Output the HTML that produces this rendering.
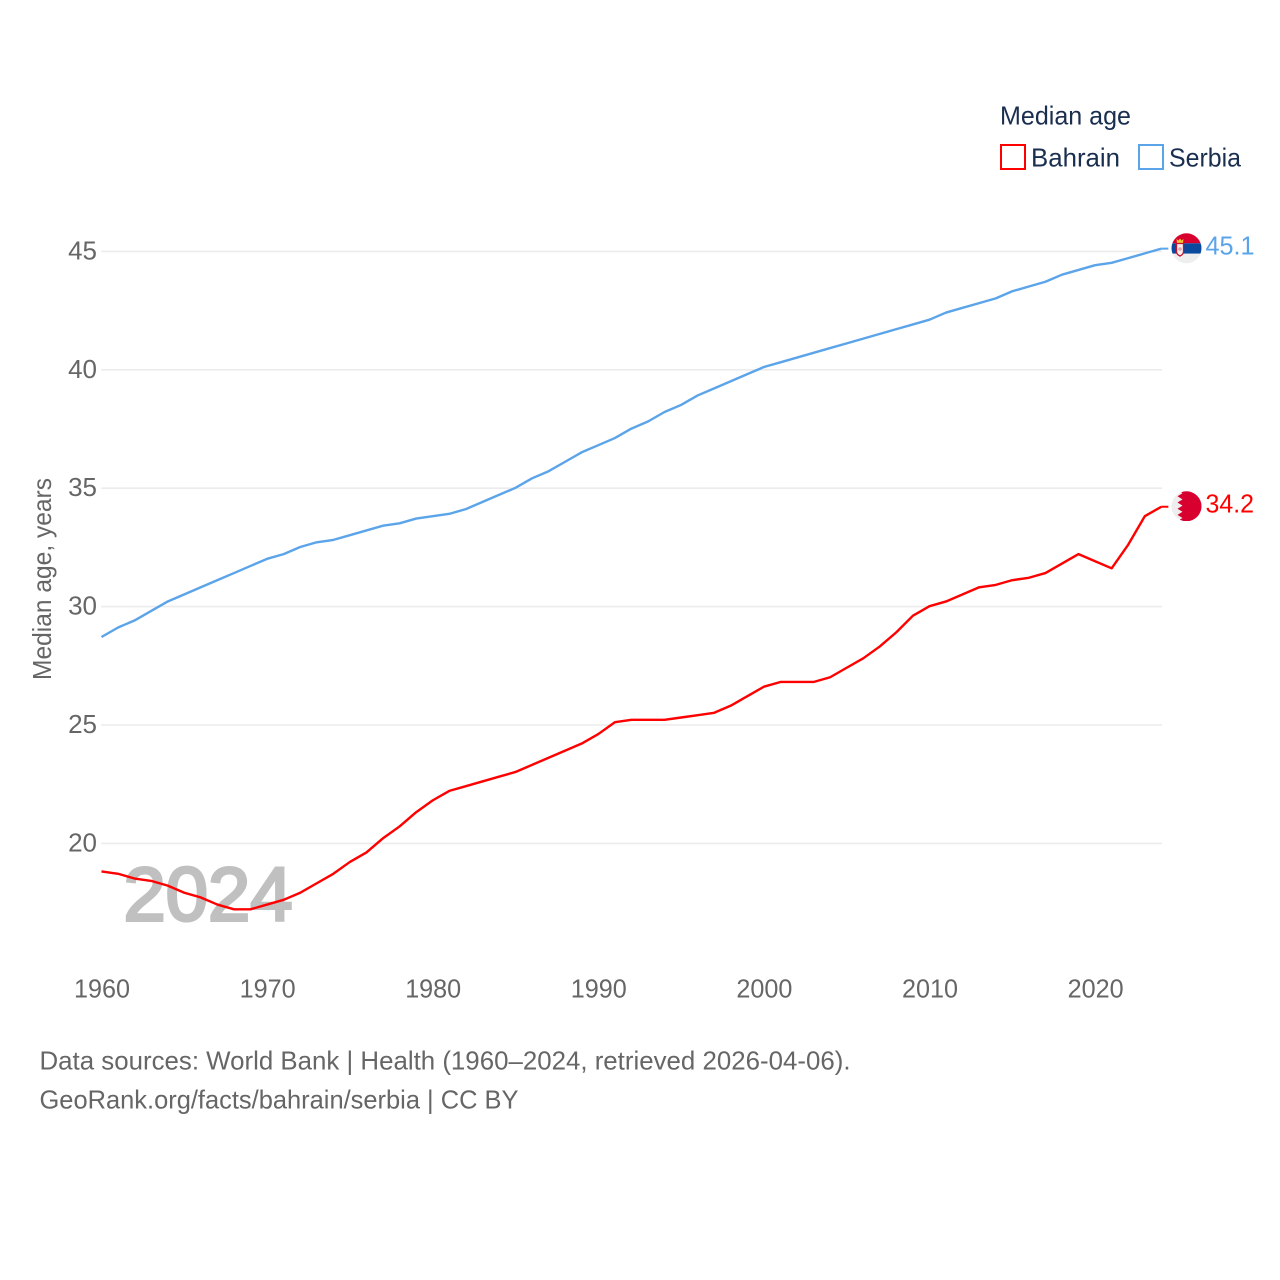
<!DOCTYPE html>
<html lang="en">
<head>
<meta charset="utf-8">
<title>Median age: Bahrain and Serbia</title>
<style>
html,body{margin:0;padding:0;background:#fff;}
svg{display:block;font-family:"Liberation Sans",sans-serif;}
</style>
</head>
<body>
<svg id="chart" width="1280" height="1280" viewBox="0 0 1280 1280" xmlns="http://www.w3.org/2000/svg">
  <rect width="1280" height="1280" fill="#ffffff"/>
  <g id="grid"></g>
  <g id="yticks"></g>
  <g id="xticks"></g>
  <text x="123.500" y="920.500" font-size="76" font-weight="400" fill="#c0c0c0" stroke="#c0c0c0" stroke-width="3" textLength="169" lengthAdjust="spacingAndGlyphs">2024</text>
  <text transform="translate(51,680) rotate(-90)" font-size="26" fill="#666666" textLength="202" lengthAdjust="spacingAndGlyphs">Median age, years</text>
  <g id="series"></g>

  <g>
    <text x="1000" y="124.500" font-size="26" fill="#1a2e4f" textLength="131" lengthAdjust="spacingAndGlyphs">Median age</text>
    <g>
      <rect x="1001" y="145" width="24" height="24" fill="#fff" stroke="#ff0000" stroke-width="2"/>
      <text x="1031" y="166.500" font-size="26" fill="#1a2e4f" textLength="89" lengthAdjust="spacingAndGlyphs">Bahrain</text>
    </g>
    <g>
      <rect x="1139" y="145" width="24" height="24" fill="#fff" stroke="#5ba4ea" stroke-width="2"/>
      <text x="1169" y="166.500" font-size="26" fill="#1a2e4f" textLength="72" lengthAdjust="spacingAndGlyphs">Serbia</text>
    </g>
  </g>

  <defs>
    <clipPath id="clip-serbia"><circle cx="1186.500" cy="248.300" r="15"/></clipPath>
    <clipPath id="clip-bahrain"><circle cx="1186.500" cy="506.300" r="15"/></clipPath>
  </defs>
  <g clip-path="url(#clip-serbia)">
    <rect x="1170" y="232" width="33" height="11.300" fill="#d8002e"/>
    <rect x="1170" y="243.300" width="33" height="10.400" fill="#0a4a9e"/>
    <rect x="1170" y="253.700" width="33" height="11" fill="#eeeeee"/>
    <path d="M1177 243l-0.500-4 2 1.500 1.500-2 1.500 2 2-1.500-0.500 4z" fill="#f2c230"/>
    <path d="M1176.500 243.500h7v8q0 3-3.500 4.500q-3.500-1.500-3.500-4.500z" fill="#f4f0ee" stroke="#c8102e" stroke-width="1.300"/>
    <circle cx="1180" cy="249" r="1.800" fill="#e6a0a8"/>
  </g>
  <g clip-path="url(#clip-bahrain)">
    <rect x="1170" y="490" width="33" height="33" fill="#eeeeee"/>
    <path d="M1177.500 490l5 3.300-5 3 5 3.100-5 3.100 5 3.100-5 3.100 5 3.100-5 3.100 5 3.100-5 3H1203V490z" fill="#d8002e"/>
  </g>
  <text x="1205.500" y="254.500" font-size="26" fill="#5ba4ea" textLength="49" lengthAdjust="spacingAndGlyphs">45.1</text>
  <text x="1205.500" y="512.500" font-size="26" fill="#ff0000" textLength="48.500" lengthAdjust="spacingAndGlyphs">34.2</text>

  <g>
    <text x="39.500" y="1069.300" font-size="26" fill="#666666" textLength="811" lengthAdjust="spacingAndGlyphs">Data sources: World Bank | Health (1960–2024, retrieved 2026-04-06).</text>
    <text x="39.500" y="1108.300" font-size="26" fill="#666666" textLength="479" lengthAdjust="spacingAndGlyphs">GeoRank.org/facts/bahrain/serbia | CC BY</text>
  </g>
</svg>
<script>
const startYear = 1960;
const xTickLabels = [1960, 1970, 1980, 1990, 2000, 2010, 2020];
const yTickLabels = [20, 25, 30, 35, 40, 45];
const bahrainValues = [18.8,18.7,18.5,18.4,18.2,17.9,17.7,17.4,17.2,17.2,17.4,17.6,17.9,18.3,18.7,19.2,19.6,20.2,20.7,21.3,21.8,22.2,22.4,22.6,22.8,23.0,23.3,23.6,23.9,24.2,24.6,25.1,25.2,25.2,25.2,25.3,25.4,25.5,25.8,26.2,26.6,26.8,26.8,26.8,27.0,27.4,27.8,28.3,28.9,29.6,30.0,30.2,30.5,30.8,30.9,31.1,31.2,31.4,31.8,32.2,31.9,31.6,32.6,33.8,34.2];
const serbiaValues = [28.7,29.1,29.4,29.8,30.2,30.5,30.8,31.1,31.4,31.7,32.0,32.2,32.5,32.7,32.8,33.0,33.2,33.4,33.5,33.7,33.8,33.9,34.1,34.4,34.7,35.0,35.4,35.7,36.1,36.5,36.8,37.1,37.5,37.8,38.2,38.5,38.9,39.2,39.5,39.8,40.1,40.3,40.5,40.7,40.9,41.1,41.3,41.5,41.7,41.9,42.1,42.4,42.6,42.8,43.0,43.3,43.5,43.7,44.0,44.2,44.4,44.5,44.7,44.9,45.1];

const NS = 'http://www.w3.org/2000/svg';
function xScale(year) { return 101.5 + (year - 1960) * 16.56; }
function yScale(v) { return 843.4 - (v - 20) * 23.68; }
function make(tag, attrs, parent) {
  const el = document.createElementNS(NS, tag);
  for (const k in attrs) el.setAttribute(k, attrs[k]);
  document.getElementById(parent).appendChild(el);
  return el;
}
yTickLabels.forEach(function (t) {
  const line = make('line', {x1: 101, x2: 1162, y1: yScale(t), y2: yScale(t), stroke: '#ececec', 'stroke-width': 1.6}, 'grid');
  
  
  const label = make('text', {x: 97, y: yScale(t) + 8, 'text-anchor': 'end', 'font-size': 26, fill: '#666666'}, 'yticks');
  
  
  label.textContent = t;
});
xTickLabels.forEach(function (t) {
  const label = make('text', {x: xScale(t) + 0.5, y: 997.7, 'text-anchor': 'middle', 'font-size': 26, fill: '#666666', textLength: 56, lengthAdjust: 'spacingAndGlyphs'}, 'xticks');
  
  
  label.textContent = t;
});
function drawSeries(values, color, name) {
  const pts = values.map(function (v, i) { return xScale(startYear + i).toFixed(2) + ',' + (yScale(v) - 0.4).toFixed(2); });
  const line = make('polyline', {points: pts.join(' '), fill: 'none', stroke: color, 'stroke-width': 2.4, 'stroke-linejoin': 'round'}, 'series');
  
  
  const lastY = yScale(values[values.length - 1]) - 0.4;
  const lastX = xScale(startYear + values.length - 1);
  const connector = make('line', {x1: lastX, x2: lastX + 7, y1: lastY, y2: lastY, stroke: color, 'stroke-width': 2}, 'series');
  
  
}
drawSeries(serbiaValues, '#5ba4ea', 'serbia');
drawSeries(bahrainValues, '#ff0000', 'bahrain');
</script>
</body>
</html>
